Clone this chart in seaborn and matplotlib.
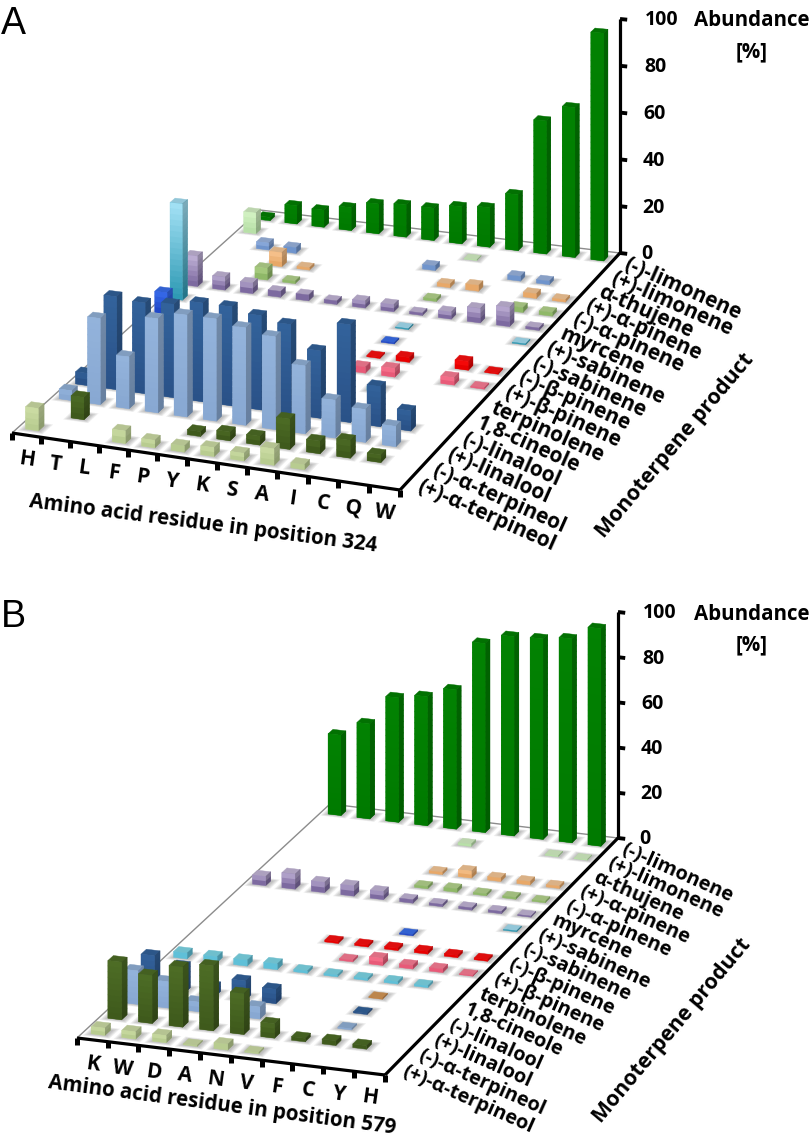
import numpy as np
import matplotlib
matplotlib.use('Agg')
import matplotlib.pyplot as plt
from mpl_toolkits.mplot3d.art3d import Line3DCollection
import seaborn as sns

W_PX, H_PX = 812, 1138

products = ['(-)-limonene', '(+)-limonene', 'α-thujene', '(+)-α-pinene', '(-)-α-pinene', 'myrcene',
            '(+)-sabinene', '(-)-sabinene', '(-)-β-pinene', '(+)-β-pinene', 'terpinolene', '1,8-cineole',
            '(-)-linalool', '(+)-linalool', '(-)-α-terpineol', '(+)-α-terpineol']
z_ticks = [0, 20, 40, 60, 80, 100]

# panel A, residue 324
residues_a = ['H', 'T', 'L', 'F', 'P', 'Y', 'K', 'S', 'A', 'I', 'C', 'Q', 'W']
a_minus_limonene = [1.5, 8, 7.5, 10, 13, 14, 14, 16, 17, 24, 57, 64, 97]
a_plus_limonene = [9, 0, 0, 0, 0, 0, 0, 0, 0.3, 0, 0, 0, 0]
a_thujene = [0, 3, 2.5, 0, 0, 0, 0, 2, 0, 0, 2, 1.5, 0]
a_plus_a_pinene = [0, 0, 6, 1, 0, 0, 0, 0, 1.5, 2.5, 0, 2, 1]
a_minus_a_pinene = [0, 0, 5, 1, 0, 0, 0, 0, 1, 0, 0, 2, 1.5]
a_myrcene = [13, 5.5, 4.5, 2.5, 2.5, 1.5, 3, 3, 1, 3, 6, 8, 1]
a_plus_sabinene = [41, 0, 0, 0, 0, 0, 0, 0, 0.4, 0, 0, 0, 0.4]
a_minus_sabinene = [9, 0, 0, 0, 0, 0, 0, 0, 0.5, 0, 0, 0, 0]
a_minus_b_pinene = [0, 0, 0, 0, 0, 0, 0, 0, 0.5, 2, 0, 3.5, 0.5]
a_plus_b_pinene = [0, 0, 0, 0, 0, 0, 0, 0, 2.5, 3.5, 0, 3, 0.5]
a_terpinolene = [0, 0, 0, 0, 0, 0, 0, 0, 0, 1.5, 0, 0, 0]
a_cineole = [0] * 13
a_minus_linalool = [5, 38, 37, 38, 40, 40, 38, 36, 27, 39, 16, 8, 0]
a_plus_linalool = [4, 35, 21, 38, 41, 41, 39, 37, 27, 15, 13, 8, 0]
a_minus_terpineol = [0, 9, 0, 0, 0, 2, 3.5, 3.5, 12, 5, 7, 3, 0]
a_plus_terpineol = [9, 0, 0, 5, 3, 2.5, 3.5, 3, 6.5, 2, 0, 0, 0]

# panel B, residue 579
residues_b = ['K', 'W', 'D', 'A', 'N', 'V', 'F', 'C', 'Y', 'H']
b_minus_limonene = [35.5, 42, 55, 57, 61.5, 83.5, 88, 88.5, 90, 96]
b_plus_limonene = [0, 0, 0, 0, 0, 1, 0, 0, 0.4, 0.3]
b_thujene = [0] * 10
b_plus_a_pinene = [0, 0, 0, 0, 0, 1, 3, 1.5, 1.5, 1]
b_minus_a_pinene = [0, 0, 0, 0, 0, 1, 1.5, 0.8, 0.8, 0.6]
b_myrcene = [4, 6.5, 4.5, 4.5, 3.5, 1.5, 1, 1, 1, 0.5]
b_plus_sabinene = [0, 0, 0, 0, 0, 0, 0, 0, 0, 0.4]
b_minus_sabinene = [0, 0, 0, 0, 0, 0, 0.5, 0, 0, 0]
b_minus_b_pinene = [0, 0, 0, 0, 0.8, 0.8, 1, 1.2, 1, 0.7]
b_plus_b_pinene = [0, 0, 0, 0, 0, 0.7, 3, 1.5, 1.5, 0.3]
b_terpinolene = [2.5, 2.5, 2.5, 2.5, 1, 0.8, 0.8, 1, 0.8, 0]
b_cineole = [0, 0, 0, 0, 0, 0, 0, 0.4, 0, 0]
b_minus_linalool = [14, 11, 4, 8, 6, 0, 0, 0.5, 0, 0]
b_plus_linalool = [14, 11, 4, 0, 5, 0, 0, 0.5, 0, 0]
b_minus_terpineol = [24, 20, 25, 27, 17, 6, 1.5, 2, 1.5, 0]
b_plus_terpineol = [3, 3, 3, 0.4, 2.5, 0.5, 0, 0, 0, 0]

# front face colour of each product, top of the bar then bottom
light_colors = ['#028202', '#d8f5c8', '#9db8e4', '#fbcb9a', '#b8d890', '#c7b9dc', '#a8e4f8', '#3a70f0',
                '#ff1010', '#ff8098', '#80dcec', '#d89a58', '#33639c', '#94b4dc', '#4e6e26', '#d0e0a8']
dark_colors = ['#007a00', '#b8e0a8', '#6f94cc', '#e8a868', '#8fb868', '#7d6aa0', '#2f9ab4', '#2048c8',
               '#e80000', '#e85a78', '#5fc0d8', '#c08040', '#2a5288', '#88a8d2', '#3f5a1c', '#b8cc90']

sns.set_theme(style='white')
plt.rcParams['font.family'] = ['Open Sans', 'DejaVu Sans']
plt.rcParams['text.color'] = 'black'

fig = plt.figure(figsize=(W_PX / 100, H_PX / 100), dpi=100)


def floor_matrix(corners, nx, ny):
    # homography from floor coordinates to display pixels
    src = [(0, 0), (nx, 0), (nx, ny), (0, ny)]
    a, b = [], []
    for (x, y), (px, py) in zip(src, corners):
        py = H_PX - py
        a.append([x, y, 1, 0, 0, 0, -x * px, -y * px])
        a.append([0, 0, 0, x, y, 1, -x * py, -y * py])
        b += [px, py]
    h = np.linalg.solve(np.array(a, float), np.array(b, float))
    return np.append(h, 1).reshape(3, 3)


def shade(color, f):
    return tuple(np.array(matplotlib.colors.to_rgb(color)) * f)


def draw_panel(values, residues, corners, z_px, letter, letter_y, title, title_xy, title_rot, side_xy,
               label_size):
    nx, ny = len(residues), len(products)
    h = floor_matrix(corners, nx, ny)
    k = z_px / 100 * (h[2] @ [nx, ny, 1])

    ax = fig.add_axes([0, 0, 1, 1], projection='3d', computed_zorder=False)
    ax.set_axis_off()
    ax.patch.set_alpha(0)

    def get_proj():
        a = ax.transData.inverted().get_matrix()
        rx = np.array([h[0, 0], h[0, 1], 0, h[0, 2]])
        ry = np.array([h[1, 0], h[1, 1], k, h[1, 2]])
        rw = np.array([h[2, 0], h[2, 1], 0, h[2, 2]])
        return np.array([a[0, 0] * rx + a[0, 1] * ry + a[0, 2] * rw,
                         a[1, 0] * rx + a[1, 1] * ry + a[1, 2] * rw,
                         [-0.1, 1, 0.01, 0],
                         rw])
    ax.get_proj = get_proj

    def to_px(x, y, z=0):
        w = h[2] @ [x, y, 1]
        return (h[0] @ [x, y, 1]) / w, H_PX - ((h[1] @ [x, y, 1]) + k * z) / w

    def put_text(px, py, s, **kw):
        fig.text(px / W_PX, 1 - py / H_PX, s, **kw)

    def add_lines(segments, color, lw, zorder):
        lines = Line3DCollection(segments, colors=color, linewidths=lw, capstyle='butt')
        ax.add_collection3d(lines, autolim=False)
        lines.set_clip_on(False)
        lines.set_zorder(zorder)

    # floor edges and axes
    add_lines([[(0, 0, 0), (0, ny, 0)], [(0, ny, 0), (nx, ny, 0)]], '#8c8c8c', 1, 1)
    add_lines([[(0, 0, 0), (nx, 0, 0)], [(nx, 0, 0), (nx, ny, 0)], [(nx, ny, 0), (nx, ny, 100)]],
              'black', 2.3, 6)
    add_lines([[(i, 0, 0), (i, 0, -2.8)] for i in range(nx + 1)], 'black', 3.6, 6)
    add_lines([[(nx, ny, t), (nx + 0.25, ny, t)] for t in z_ticks], 'black', 2.8, 6)
    for t in z_ticks:
        px, py = to_px(nx, ny, t)
        put_text(px + 21 + 0.04 * t, py + 1.5, str(t), ha='left', va='center', fontsize=14, fontweight='bold')

    dx, dy = 0.45, 0.33

    # soft shadows under the bars
    for r, row in enumerate(values):
        y = ny - 1 - r + 0.5 - dy / 2
        for c, v in enumerate(row):
            if v <= 0:
                continue
            x = c + 0.5 - dx / 2
            for m in (0.03, 0.07, 0.11, 0.15, 0.19):
                col = ax.bar3d(x - m, y - m * 0.8, 0, dx + 2 * m + 0.04, dy + 1.6 * m, 0.001,
                               color=(0.4, 0.4, 0.4, 0.05), shade=False, linewidth=0)
                col.set_clip_on(False)
                col.set_zorder(2)

    clear = (0, 0, 0, 0)
    # back row first, left to right, so that nearer bars cover the farther ones
    for r, row in enumerate(values):
        y = ny - 1 - r + 0.5 - dy / 2
        for c, v in enumerate(row):
            if v <= 0:
                continue
            x = c + 0.5 - dx / 2
            n_seg = max(1, int(np.ceil(v / 2.5)))
            ramp = sns.blend_palette([dark_colors[r], light_colors[r]], n_seg + 1)
            step = v / n_seg
            top = shade(light_colors[r], 0.87)
            mid = ramp[n_seg // 2]
            # solid bar first, the gradient goes over it
            faces = [clear, top, mid, clear, clear, shade(mid, 0.76)]
            col = ax.bar3d(x, y, 0, dx, dy, v, color=faces, edgecolors=faces, shade=False, linewidth=0.3)
            col.set_clip_on(False)
            col.set_zorder(3)
            if n_seg == 1:
                continue
            for s in range(n_seg):
                hgt = step if s == n_seg - 1 else step * 1.2
                faces = [clear, clear, ramp[s], clear, clear, shade(ramp[s], 0.76)]
                col = ax.bar3d(x, y, s * step, dx, dy, hgt, color=faces, shade=False, linewidth=0)
                col.set_clip_on(False)
                col.set_zorder(3)

    # residue labels along the front axis
    for i, name in enumerate(residues):
        px, py = to_px(i + 0.5, 0)
        put_text(px, py + 25, name, ha='center', va='center', fontsize=15, fontweight='bold',
                 rotation=-8, rotation_mode='anchor')
    # product labels along the right edge
    for r, name in enumerate(products):
        px, py = to_px(nx, ny - 0.5 - r)
        put_text(px + 11, py + 4, name, ha='left', va='center', fontsize=label_size, fontweight='bold',
                 rotation=-24, rotation_mode='anchor')

    put_text(title_xy[0], title_xy[1], title, ha='center', va='center', fontsize=14.8, fontweight='bold',
             rotation=title_rot, rotation_mode='anchor')
    put_text(side_xy[0], side_xy[1], 'Monoterpene product', ha='center', va='center', fontsize=15.3,
             fontweight='bold', rotation=50, rotation_mode='anchor')
    bx, by = to_px(nx, ny, 100)
    put_text(752, by + 2, 'Abundance', ha='center', va='center', fontsize=14.8, fontweight='bold')
    put_text(752, by + 33, '[%]', ha='center', va='center', fontsize=14.8, fontweight='bold')
    put_text(13, letter_y, letter, ha='center', va='center', fontsize=27,
             family='Liberation Sans', fontweight='normal')


values_a = [a_minus_limonene, a_plus_limonene, a_thujene, a_plus_a_pinene, a_minus_a_pinene, a_myrcene,
            a_plus_sabinene, a_minus_sabinene, a_minus_b_pinene, a_plus_b_pinene, a_terpinolene, a_cineole,
            a_minus_linalool, a_plus_linalool, a_minus_terpineol, a_plus_terpineol]
values_b = [b_minus_limonene, b_plus_limonene, b_thujene, b_plus_a_pinene, b_minus_a_pinene, b_myrcene,
            b_plus_sabinene, b_minus_sabinene, b_minus_b_pinene, b_plus_b_pinene, b_terpinolene, b_cineole,
            b_minus_linalool, b_plus_linalool, b_minus_terpineol, b_plus_terpineol]

draw_panel(values_a, residues_a, [(12, 433), (400, 490), (620, 253), (260, 210)], 234,
           'A', 24, 'Amino acid residue in position 324', (203, 524), -7.3, (675, 446), 15)
draw_panel(values_b, residues_b, [(77, 1038), (385, 1075), (618, 838), (330, 804)], 226,
           'B', 617, 'Amino acid residue in position 579', (222, 1105), -7.5, (672, 1031), 14.3)

plt.savefig('out.png', dpi=100)
